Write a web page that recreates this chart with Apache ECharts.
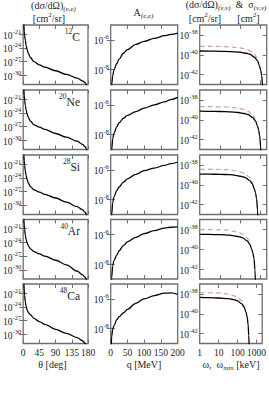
<!DOCTYPE html>
<html><head><meta charset="utf-8">
<script src="https://cdn.jsdelivr.net/npm/echarts@6/dist/echarts.min.js"></script>
<style>html,body{margin:0;padding:0;background:#fff}#c{width:269px;height:401px;opacity:0.99;will-change:opacity}</style>
</head><body><div id="c"></div>
<script>
// ---------------- data (log10 of the plotted quantity where noted) ----------------
const nucleusMass = ['12', '20', '28', '40', '48'];
const nucleusSymbol = ['C', 'Ne', 'Si', 'Ar', 'Ca'];

// column 1: (dσ/dΩ)(e,e) [cm^2/sr] vs θ [deg]  (values = log10)
const thetaDeg = [1, 2, 3, 4, 6, 8, 11, 15, 20, 30, 45, 60, 90, 120, 150, 165, 172, 177, 179.5];
const logXsEE_C  = [-17.5, -19.0, -20.4, -21.3, -22.3, -23.4, -24.4, -25.3, -26.1, -27.0, -27.7, -28.2, -29.0, -29.8, -30.6, -31.2, -31.6, -32.2, -33.5];
const logXsEE_Ne = [-17.3, -18.9, -20.2, -21.2, -22.4, -23.3, -24.3, -25.1, -25.8, -26.6, -27.1, -27.6, -28.5, -29.3, -30.2, -30.9, -31.4, -32.1, -33.5];
const logXsEE_Si = [-17.4, -19.0, -20.3, -21.3, -22.5, -23.4, -24.4, -25.2, -25.9, -26.6, -27.1, -27.6, -28.4, -29.3, -30.3, -31.0, -31.5, -32.2, -33.5];
const logXsEE_Ar = [-17.4, -19.0, -20.2, -21.1, -22.4, -23.3, -24.1, -24.8, -25.4, -26.0, -26.5, -27.0, -27.9, -28.9, -30.3, -31.1, -31.6, -32.3, -33.8];
const logXsEE_Ca = [-17.0, -19.0, -20.3, -21.5, -22.9, -23.8, -24.7, -25.3, -25.7, -26.5, -27.2, -27.8, -28.9, -29.8, -30.7, -31.4, -32.0, -32.8, -34.0];

// column 2: A(e,e) vs q [MeV]  (values = log10)
const qMeV = [1, 3, 6, 10, 18, 25, 38, 50, 75, 100, 130, 160, 180, 200];
const logAsym_C  = [-9.9, -9.0, -8.4, -8.0, -7.6, -7.3, -6.9, -6.65, -6.3, -6.1, -5.9, -5.72, -5.63, -5.55];
const logAsym_Ne = [-10.0, -9.0, -8.27, -7.9, -7.48, -7.2, -6.9, -6.7, -6.45, -6.22, -6.0, -5.8, -5.65, -5.5];
const logAsym_Si = [-10.0, -9.0, -8.2, -7.8, -7.4, -7.15, -6.83, -6.6, -6.3, -6.05, -5.88, -5.7, -5.58, -5.47];
const logAsym_Ar = [-10.0, -8.9, -8.1, -7.75, -7.4, -7.1, -6.75, -6.5, -6.2, -5.95, -5.75, -5.58, -5.52, -5.5];
const logAsym_Ca = [-9.6, -8.5, -8.05, -7.8, -7.4, -7.2, -6.95, -6.7, -6.3, -6.0, -5.78, -5.62, -5.6, -5.7];

// column 3: (dσ/dΩ)(ν,ν) [cm^2/sr] (solid) vs ω [keV], σ(ν,ν) [cm^2] (dashed) vs ω_min [keV]  (values = log10)
const omegaDs_C  = [1, 3, 10, 30, 100, 200, 300, 500, 700, 870, 1000, 1130, 1260, 1350];
const logDsNN_C  = [-39.62, -39.63, -39.65, -39.68, -39.75, -39.85, -39.95, -40.25, -40.6, -41.1, -41.5, -42.1, -43.2, -45.0];
const omegaSg_C  = [1, 3, 10, 30, 100, 200, 300, 500, 720];
const logSgNN_C  = [-39.15, -39.15, -39.17, -39.2, -39.3, -39.45, -39.6, -39.95, -40.63];

const omegaDs_Ne = [1, 3, 10, 30, 80, 160, 240, 400, 560, 700, 800, 900, 1010, 1080];
const logDsNN_Ne = [-39.14, -39.15, -39.17, -39.2, -39.27, -39.37, -39.47, -39.77, -40.12, -40.62, -41.02, -41.62, -42.72, -44.5];
const omegaSg_Ne = [1, 3, 10, 30, 80, 160, 240, 400, 576];
const logSgNN_Ne = [-38.68, -38.68, -38.7, -38.73, -38.83, -38.98, -39.13, -39.48, -40.16];

const omegaDs_Si = [1, 3, 10, 30, 56, 112, 168, 280, 392, 487, 560, 633, 706, 756];
const logDsNN_Si = [-38.92, -38.93, -38.95, -38.98, -39.05, -39.15, -39.25, -39.55, -39.9, -40.4, -40.8, -41.4, -42.5, -44.3];
const omegaSg_Si = [1, 3, 10, 30, 56, 112, 168, 280, 403];
const logSgNN_Si = [-38.44, -38.44, -38.46, -38.49, -38.59, -38.74, -38.89, -39.24, -39.92];

const omegaDs_Ar = [1, 3, 10, 30, 42, 84, 126, 210, 294, 365, 420, 475, 529, 567];
const logDsNN_Ar = [-38.5, -38.51, -38.53, -38.58, -38.63, -38.73, -38.83, -39.13, -39.48, -39.98, -40.38, -40.98, -42.08, -43.9];
const omegaSg_Ar = [1, 3, 10, 30, 42, 84, 126, 210, 302];
const logSgNN_Ar = [-38.02, -38.02, -38.04, -38.08, -38.17, -38.32, -38.47, -38.82, -39.5];

const omegaDs_Ca = [1, 3, 10, 32, 64, 96, 160, 224, 278, 320, 362, 390, 415, 440];
const logDsNN_Ca = [-38.35, -38.37, -38.41, -38.48, -38.58, -38.68, -38.98, -39.33, -39.83, -40.3, -41.1, -42.2, -43.5, -45.0];
const omegaSg_Ca = [1, 3, 10, 15, 32, 64, 96, 160, 230];
const logSgNN_Ca = [-37.88, -37.88, -37.9, -37.93, -38.03, -38.18, -38.33, -38.68, -39.36];

// ticks
const thetaTicks = [0, 45, 90, 135, 180];
const qTicks = [0, 50, 100, 150, 200];
const omegaTicks = [1, 10, 100, 1000];
const yTicksCol1 = [-30, -27, -24, -21];
const yTicksCol2 = [-8, -6];
const yTicksCol3 = [-42, -40, -38];

// ---------------- chart ----------------
const col1Y = [logXsEE_C, logXsEE_Ne, logXsEE_Si, logXsEE_Ar, logXsEE_Ca];
const col2Y = [logAsym_C, logAsym_Ne, logAsym_Si, logAsym_Ar, logAsym_Ca];
const col3Ds = [[omegaDs_C, logDsNN_C], [omegaDs_Ne, logDsNN_Ne], [omegaDs_Si, logDsNN_Si], [omegaDs_Ar, logDsNN_Ar], [omegaDs_Ca, logDsNN_Ca]];
const col3Sg = [[omegaSg_C, logSgNN_C], [omegaSg_Ne, logSgNN_Ne], [omegaSg_Si, logSgNN_Si], [omegaSg_Ar, logSgNN_Ar], [omegaSg_Ca, logSgNN_Ca]];

const FONT = '"Liberation Serif", "Times New Roman", serif';
const FRAME = '#6e6e6e';
const TXT = '#1a1a1a';
const colLeft = [21, 110.7, 199.7], colW = 67;
const rowTop = [25, 90, 155, 219.5, 284], rowH = 59.5;

const labelRich = {
  b: {fontFamily: FONT, fontSize: 9.5, color: TXT, verticalAlign: 'bottom', lineHeight: 13},
  s: {fontFamily: FONT, fontSize: 6.5, color: TXT, verticalAlign: 'top', lineHeight: 13}
};
const pow10Label = v => '{b|10}{s|' + v + '}';

const xCfg = [
  {type: 'value', min: 0, max: 180, interval: 45, ticks: thetaTicks},
  {type: 'value', min: 0, max: 200, interval: 50, ticks: qTicks},
  {type: 'log', min: 1, max: 2000, logBase: 10, ticks: omegaTicks}
];
const yCfg = [
  {min: -32, max: -19, ticks: yTicksCol1},
  {min: -9, max: -5, ticks: yTicksCol2},
  {min: -43, max: -37, ticks: yTicksCol3}
];

const grid = [], xAxis = [], yAxis = [], series = [];
for (let r = 0; r < 5; r++) {
  for (let c = 0; c < 3; c++) {
    const g = grid.length;
    grid.push({left: colLeft[c], top: rowTop[r], width: colW, height: rowH, show: true,
      borderColor: FRAME, borderWidth: 1.3, backgroundColor: 'transparent', containLabel: false});
    const xc = xCfg[c], yc = yCfg[c];
    ['bottom', 'top'].forEach((pos, k) => {
      const ax = {type: xc.type, gridIndex: g, position: pos, min: xc.min, max: xc.max,
        axisLine: {show: false}, splitLine: {show: false},
        axisTick: {show: true, inside: true, length: 4, lineStyle: {color: FRAME, width: 1}, customValues: xc.ticks},
        axisLabel: {show: k === 0 && r === 4, margin: 4, fontFamily: FONT, fontSize: 9.5, color: TXT,
          customValues: xc.ticks, formatter: v => String(Math.round(v))}};
      if (xc.type === 'value') ax.interval = xc.interval; else ax.logBase = 10;
      xAxis.push(ax);
    });
    ['left', 'right'].forEach((pos, k) => {
      yAxis.push({type: 'value', gridIndex: g, position: pos, min: yc.min, max: yc.max,
        axisLine: {show: false}, splitLine: {show: false},
        axisTick: {show: true, inside: true, length: 4, lineStyle: {color: FRAME, width: 1}, customValues: yc.ticks},
        axisLabel: {show: k === 0, margin: 2, formatter: pow10Label, rich: labelRich, customValues: yc.ticks}});
    });
    const xi = 2 * g, yi = 2 * g;
    const solid = {type: 'line', xAxisIndex: xi, yAxisIndex: yi, showSymbol: false, smooth: 0.35,
      smoothMonotone: 'x', clip: true, lineStyle: {color: '#000', width: 1.3}, silent: true, animation: false};
    if (c === 0) {
      series.push(Object.assign({}, solid, {data: thetaDeg.map((t, i) => [t, col1Y[r][i]])}));
    } else if (c === 1) {
      series.push(Object.assign({}, solid, {data: qMeV.map((q, i) => [q, col2Y[r][i]])}));
    } else {
      const sg = col3Sg[r];
      series.push(Object.assign({}, solid, {z: 2,
        lineStyle: {color: '#d39ea4', width: 1.2, type: [5, 3]},
        data: sg[0].map((w, i) => [w, sg[1][i]])}));
      const ds = col3Ds[r];
      series.push(Object.assign({}, solid, {z: 3, data: ds[0].map((w, i) => [w, ds[1][i]])}));
    }
  }
}

// text
const R = {
  bt: {fontFamily: FONT, fontSize: 10, fill: TXT, verticalAlign: 'top', lineHeight: 12},
  sub: {fontFamily: FONT, fontSize: 7, fontStyle: 'italic', fill: TXT, verticalAlign: 'bottom', lineHeight: 12},
  bb: {fontFamily: FONT, fontSize: 10, fill: TXT, verticalAlign: 'bottom', lineHeight: 12},
  sup: {fontFamily: FONT, fontSize: 7, fill: TXT, verticalAlign: 'top', lineHeight: 12},
  nb: {fontFamily: FONT, fontSize: 11.5, fill: TXT, verticalAlign: 'bottom', lineHeight: 15},
  ns: {fontFamily: FONT, fontSize: 7.5, fill: TXT, verticalAlign: 'top', lineHeight: 15}
};
function txt(x, y, text, align) {
  return {type: 'text', x: x, y: y, silent: true,
    style: {text: text, rich: R, fontFamily: FONT, fontSize: 10, fill: TXT,
      align: align || 'center', verticalAlign: 'middle'}};
}
const graphic = [
  txt(53.5, 6, '{bt|(dσ/dΩ)}{sub|(e,e)}'),
  txt(49, 17.5, '{bb|[cm}{sup|2}{bb|/sr]}'),
  txt(143.5, 13, '{bt|A}{sub|(e,e)}'),
  txt(226, 5.5, '{bt|(dσ/dΩ)}{sub|(ν,ν)}{bt|  &  σ}{sub|(ν,ν)}'),
  txt(205, 17.5, '{bb|[cm}{sup|2}{bb|/sr]}'),
  txt(248.5, 17.5, '{bb|[cm}{sup|2}{bb|]}'),
  txt(52.5, 365, '{bt|θ [deg]}'),
  txt(144, 365, '{bt|q [MeV]}'),
  txt(231, 365, '{bt|ω,  ω}{sub|min}{bt| [keV]}')
];
for (let r = 0; r < 5; r++) {
  graphic.push(txt(80, rowTop[r] + 10, '{ns|' + nucleusMass[r] + '}{nb|' + nucleusSymbol[r] + '}', 'right'));
}

const chart = echarts.init(document.getElementById('c'), null, {renderer: 'svg', width: 269, height: 401});
chart.setOption({animation: false, backgroundColor: '#fff', grid, xAxis, yAxis, series, graphic});
</script>
</body></html>
